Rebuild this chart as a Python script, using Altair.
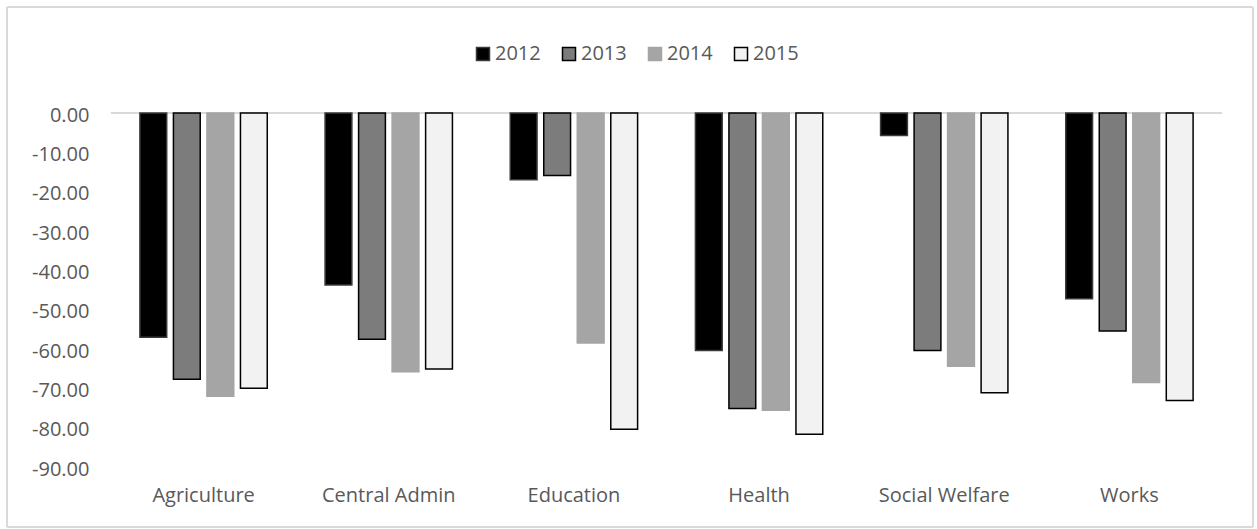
import altair as alt
import pandas as pd

# Departments along the category axis
categories = ["Agriculture", "Central Admin", "Education", "Health", "Social Welfare", "Works"]
years = ["2012", "2013", "2014", "2015"]

# Percentage change per department, one list per year
v2012 = [-57.0, -43.7, -17.0, -60.4, -5.7, -47.2]
v2013 = [-67.7, -57.5, -15.9, -75.1, -60.4, -55.4]
v2014 = [-72.0, -65.8, -58.5, -75.6, -64.4, -68.5]
v2015 = [-70.0, -65.1, -80.4, -81.7, -71.1, -73.1]

y_ticks = [0, -10, -20, -30, -40, -50, -60, -70, -80, -90]

series = {"2012": v2012, "2013": v2013, "2014": v2014, "2015": v2015}
rows = []
for yr in years:
    for cat, val in zip(categories, series[yr]):
        rows.append({"category": cat, "year": yr, "value": val})
df = pd.DataFrame(rows)

FONT = "Open Sans"
TEXT = "#595959"

fill_colors = ["#000000", "#7c7c7c", "#a5a5a5", "#f2f2f2"]
stroke_colors = ["#3a3a3a", "#000000", "#a5a5a5", "#000000"]

legend = alt.Legend(
    title=None,
    orient="none",
    legendX=362,
    legendY=-69,
    direction="horizontal",
    symbolType="square",
    symbolSize=169,
    symbolStrokeWidth=1.5,
    labelFont=FONT,
    labelFontSize=20,
    labelColor=TEXT,
    labelOffset=2,
    columnPadding=18,
)

y_axis = alt.Axis(
    values=y_ticks,
    domain=False,
    ticks=False,
    grid=False,
    labelOverlap=False,
    labelFont=FONT,
    labelFontSize=20,
    labelColor=TEXT,
    labelPadding=22,
    labelOffset=2,
    labelExpr="(datum.value < 0 ? '-' : '') + format(abs(datum.value), '.2f')",
)
y_scale = alt.Scale(domain=[-90, 0], nice=False)

base = alt.Chart(df)

# light border around the whole chart area
frame = base.mark_rect(fill="white", fillOpacity=0, stroke="#d9d9d9", strokeWidth=1).encode(
    x=alt.value(-104), x2=alt.value(1142), y=alt.value(-106), y2=alt.value(414)
)

zero_line = base.mark_rule(color="#d9d9d9", strokeWidth=1.5).encode(
    y=alt.Y(datum=0, type="quantitative", scale=y_scale, axis=y_axis, title=None)
)

bars = base.mark_bar(strokeWidth=1.5).encode(
    x=alt.X(
        "category:N",
        sort=categories,
        title=None,
        scale=alt.Scale(paddingInner=0.276, paddingOuter=0.138),
        axis=alt.Axis(
            orient="bottom",
            domain=False,
            ticks=False,
            labelAngle=0,
            labelFont=FONT,
            labelFontSize=20,
            labelColor=TEXT,
            labelPadding=18,
        ),
    ),
    xOffset=alt.XOffset(
        "year:N", sort=years, scale=alt.Scale(paddingInner=0.2, paddingOuter=0.1)
    ),
    y=alt.Y("value:Q", title=None, scale=y_scale, axis=y_axis),
    fill=alt.Fill("year:N", sort=years, scale=alt.Scale(domain=years, range=fill_colors), legend=legend),
    stroke=alt.Stroke("year:N", sort=years, scale=alt.Scale(domain=years, range=stroke_colors), legend=legend),
)

chart = (
    alt.layer(frame, zero_line, bars)
    .properties(
        width=1111,
        height=354,
        autosize=alt.AutoSizeParams(type="none"),
        padding={"left": 111, "top": 113, "right": 35, "bottom": 62},
        background="white",
    )
    .configure_view(stroke=None)
    .configure_axisY(labelOverlap=False)
)

chart.save("out.html", embed_options={"renderer": "svg", "actions": False})
